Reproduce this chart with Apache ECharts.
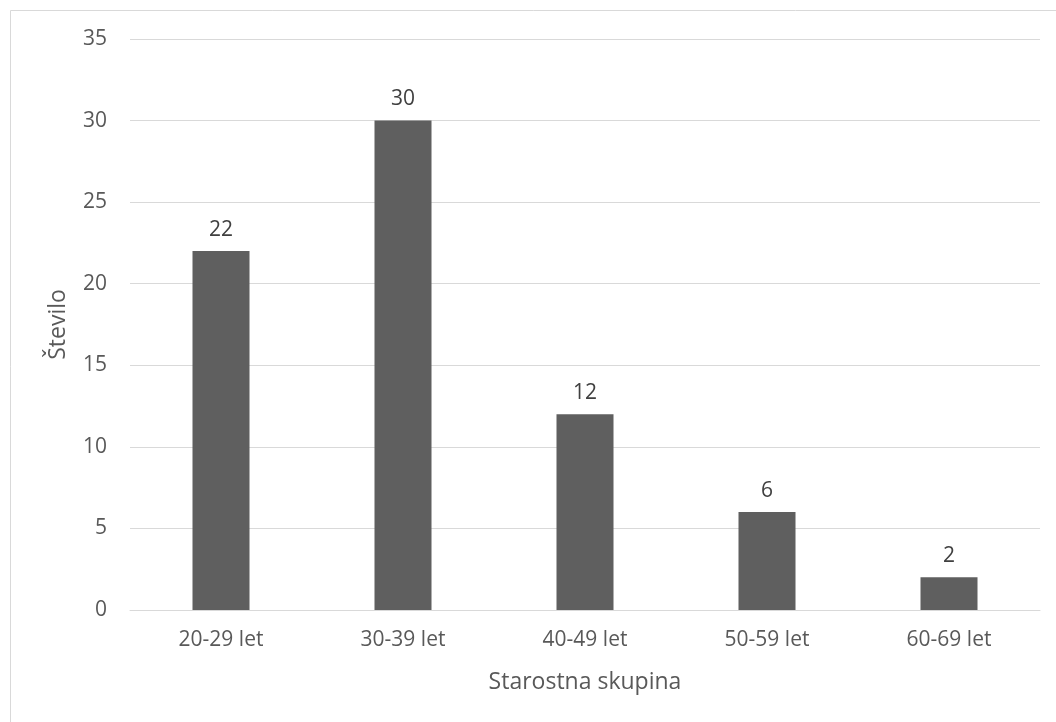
<!DOCTYPE html>
<html>
<head>
<meta charset="utf-8">
<script src="https://cdn.jsdelivr.net/npm/echarts@6/dist/echarts.min.js"></script>
<style>
  html, body { margin: 0; padding: 0; background: #ffffff; }
  #chart { width: 1056px; height: 722px; }
</style>
</head>
<body>
<div id="chart"></div>
<script>
// Age groups and respondent counts
const categories = ['20-29 let', '30-39 let', '40-49 let', '50-59 let', '60-69 let'];
const counts = [22, 30, 12, 6, 2];
const yTicks = { min: 0, max: 35, interval: 5 };
const xTitle = 'Starostna skupina';
const yTitle = 'Število';

const font = '"Open Sans", "Noto Sans", sans-serif';
const textColor = '#595959';

const chart = echarts.init(document.getElementById('chart'), null, { renderer: 'canvas' });
chart.setOption({
  backgroundColor: '#ffffff',
  animation: false,
  textStyle: { fontFamily: font },
  graphic: [{
    type: 'rect',
    shape: { x: 10.5, y: 10.5, width: 1200, height: 1000 },
    style: { fill: 'none', stroke: '#d9d9d9', lineWidth: 1 },
    silent: true
  }],
  grid: { left: 130, right: 16, top: 39, bottom: 112 },
  xAxis: {
    type: 'category',
    data: categories,
    name: xTitle,
    nameLocation: 'middle',
    nameGap: 61,
    nameTextStyle: { color: textColor, fontSize: 23, fontFamily: font },
    axisLine: { show: true, lineStyle: { color: '#d9d9d9', width: 1 } },
    axisTick: { show: false },
    axisLabel: { color: textColor, fontSize: 21, margin: 20, fontFamily: font }
  },
  yAxis: {
    type: 'value',
    min: yTicks.min,
    max: yTicks.max,
    interval: yTicks.interval,
    name: yTitle,
    nameLocation: 'middle',
    nameGap: 60,
    nameTextStyle: { color: textColor, fontSize: 23, fontFamily: font },
    axisLine: { show: false },
    axisTick: { show: false },
    splitLine: { lineStyle: { color: '#d9d9d9', width: 1 } },
    axisLabel: { color: textColor, fontSize: 21, margin: 23, fontFamily: font }
  },
  series: [{
    type: 'bar',
    data: counts,
    barWidth: 57,
    itemStyle: { color: '#5f5f5f' },
    label: {
      show: true,
      position: 'top',
      distance: 11,
      color: '#404040',
      fontSize: 21,
      fontFamily: font
    }
  }]
});
</script>
</body>
</html>
